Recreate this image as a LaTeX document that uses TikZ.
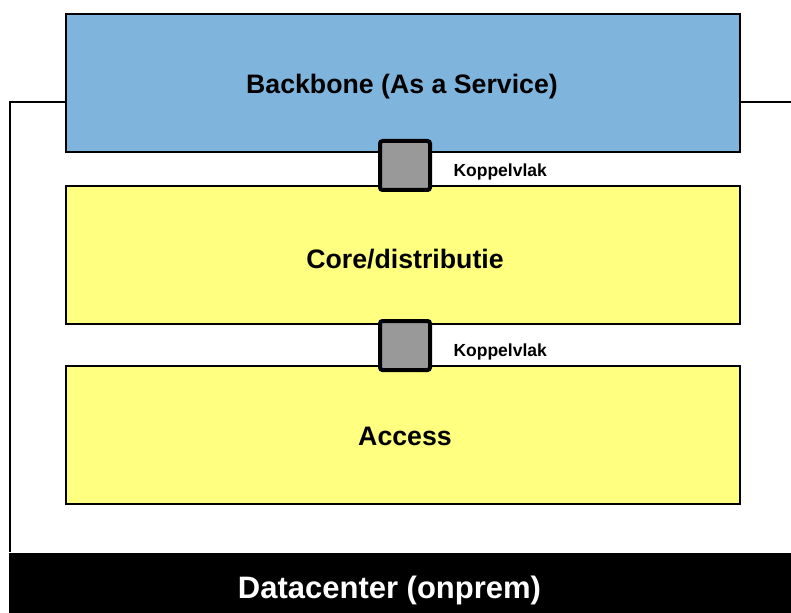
\documentclass[tikz,border=0pt]{standalone}
\usepackage{fontspec}
\setmainfont{Liberation Sans}
\definecolor{bbblue}{RGB}{127,181,221}
\definecolor{layeryellow}{RGB}{255,255,128}
\definecolor{ifgray}{RGB}{153,153,153}
\begin{document}
\begin{tikzpicture}[x=1pt,y=-1pt,
  layer/.style={draw=black, line width=2pt, minimum width=674pt, minimum height=138pt,
                inner sep=0pt},
  layerlabel/.style={anchor=base, inner sep=0pt, font=\fontsize{26.7}{30}\selectfont\bfseries},
  iface/.style={draw=black, line width=4pt, rounded corners=2.5pt, fill=ifgray,
                minimum width=50pt, minimum height=49pt, inner sep=0pt},
  ifacelabel/.style={anchor=base west, inner sep=0pt, font=\fontsize{17.5}{20}\selectfont\bfseries},
  frameline/.style={draw=black, line width=2pt}]
  \useasboundingbox (0,0) rectangle (791,612);

  % coordinates of the datacenter frame
  \coordinate (ftl) at (10,102.5);
  \coordinate (fr) at (795,102.5);

  % datacenter bar at the bottom
  \node[fill=black, draw=none, minimum width=782pt, minimum height=60pt, inner sep=0pt]
        (dc) at (400,582.5) {};
  \node[anchor=base, inner sep=0pt, text=white,
        font=\fontsize{31}{35}\selectfont\bfseries] (dclabel) at (389.5,598)
        {Datacenter (onprem)};

  % frame of the datacenter
  \draw[frameline] (fr) -- (ftl) -- (ftl |- dc.north);

  % layers
  \node[layer, fill=bbblue] (backbone) at (403,83) {};
  \node[layer, fill=layeryellow] (core) at (403,255) {};
  \node[layer, fill=layeryellow] (access) at (403,435) {};
  \node[layerlabel] (backbonelabel) at (402,93.3) {Backbone (As a Service)};
  \node[layerlabel] (corelabel) at (405,268.3) {Core/distributie};
  \node[layerlabel] (accesslabel) at (405,445) {Access};

  % interfaces between the layers
  \node[iface] (if1) at (405,165.5) {};
  \node[iface] (if2) at (405,345.5) {};
  \node[ifacelabel] (lbl1) at (453.3,176.7) {Koppelvlak};
  \node[ifacelabel] (lbl2) at (453.3,356.7) {Koppelvlak};
\end{tikzpicture}
\end{document}
